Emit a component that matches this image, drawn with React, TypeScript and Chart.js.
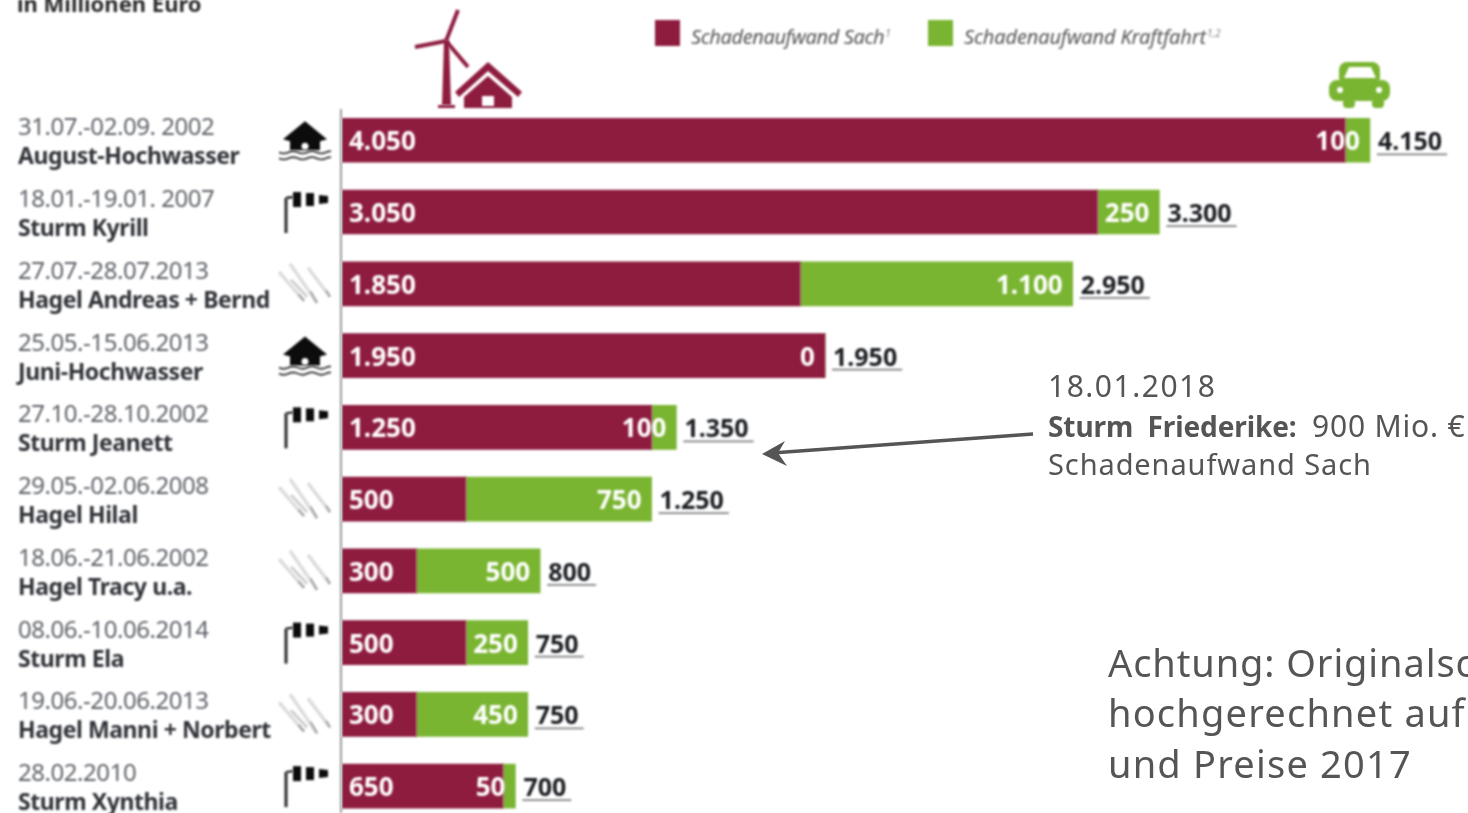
import React, { useEffect, useRef } from "react";
import { Chart, registerables } from "chart.js";

Chart.register(...registerables);

const dates = ["31.07.-02.09. 2002", "18.01.-19.01. 2007", "27.07.-28.07.2013", "25.05.-15.06.2013", "27.10.-28.10.2002", "29.05.-02.06.2008", "18.06.-21.06.2002", "08.06.-10.06.2014", "19.06.-20.06.2013", "28.02.2010"];
const events = ["August-Hochwasser", "Sturm Kyrill", "Hagel Andreas + Bernd", "Juni-Hochwasser", "Sturm Jeanett", "Hagel Hilal", "Hagel Tracy u.a.", "Sturm Ela", "Hagel Manni + Norbert", "Sturm Xynthia"];
const kinds = ["flood", "storm", "hail", "flood", "storm", "hail", "hail", "storm", "hail", "storm"];
const sach = [4050, 3050, 1850, 1950, 1250, 500, 300, 500, 300, 650];
const kraft = [100, 250, 1100, 0, 100, 750, 500, 250, 450, 50];
const totals = [4150, 3300, 2950, 1950, 1350, 1250, 800, 750, 750, 700];
const seriesNames = ["Schadenaufwand Sach", "Schadenaufwand Kraftfahrt"];
const seriesNotes = ["1", "1,2"];

const RED = "#8E1C3F";
const GREEN = "#7AB532";
const GREY = "#555555";
const FONT = '"Noto Sans"';
const BLUR = "blur(0.9px)";

const fmt = (v: number) => (v >= 1000 ? `${Math.floor(v / 1000)}.${String(v % 1000).padStart(3, "0")}` : String(v));

function txt(ctx: any, s: string, x: number, y: number, font: string, color: string, spacing = 0, align = "left") {
  ctx.font = font;
  ctx.fillStyle = color;
  ctx.textAlign = align;
  ctx.textBaseline = "alphabetic";
  ctx.letterSpacing = `${spacing}px`;
  ctx.fillText(s, x, y);
  ctx.letterSpacing = "0px";
}

function poly(ctx: any, pts: number[][], color: string) {
  ctx.fillStyle = color;
  ctx.beginPath();
  pts.forEach((p, i) => (i ? ctx.lineTo(p[0], p[1]) : ctx.moveTo(p[0], p[1])));
  ctx.closePath();
  ctx.fill();
}

function seg(ctx: any, x1: number, y1: number, x2: number, y2: number, w: number, color: string) {
  ctx.strokeStyle = color;
  ctx.lineWidth = w;
  ctx.beginPath();
  ctx.moveTo(x1, y1);
  ctx.lineTo(x2, y2);
  ctx.stroke();
}

function flood(ctx: any, x: number, y: number) {
  const c = "#0c0c0c";
  poly(ctx, [[x, y - 19], [x + 22, y - 1], [x + 15, y + 1], [x + 15, y + 10], [x - 15, y + 10], [x - 15, y + 1], [x - 22, y - 1]], c);
  ctx.fillStyle = "#fff";
  ctx.beginPath();
  ctx.arc(x, y + 6, 3.5, 0, Math.PI * 2);
  ctx.fill();
  for (const dy of [12, 18]) {
    ctx.strokeStyle = "#333";
    ctx.lineWidth = 1.8;
    ctx.beginPath();
    for (let i = 0; i <= 52; i += 2) {
      const px = x - 26 + i;
      const py = y + dy + Math.sin(i / 3) * 1.2;
      if (i === 0) ctx.moveTo(px, py);
      else ctx.lineTo(px, py);
    }
    ctx.stroke();
  }
}

function storm(ctx: any, x: number, y: number) {
  const c = "#0c0c0c";
  seg(ctx, x - 19, y - 14, x - 19, y + 21, 3, "#2a2a2a");
  seg(ctx, x - 19, y - 14, x - 12, y - 15, 2.4, "#2a2a2a");
  poly(ctx, [[x - 12, y - 20], [x - 4, y - 20], [x - 4, y - 5], [x - 12, y - 5]], c);
  poly(ctx, [[x + 1, y - 19], [x + 9, y - 19], [x + 9, y - 6], [x + 1, y - 6]], c);
  poly(ctx, [[x + 14, y - 17], [x + 23, y - 16], [x + 23, y - 9], [x + 14, y - 8]], c);
}

function hail(ctx: any, x: number, y: number) {
  const lines = [[-26, -12, -1, 17], [-15, -20, 12, 19], [3, -16, 25, 13]];
  for (const [a, b, c, d] of lines) {
    seg(ctx, x + a, y + b, x + c, y + d, 3.5, "#dcdcdc");
    seg(ctx, x + (a + c) / 2 + 7, y + (b + d) / 2 + 8, x + c, y + d, 1.6, "#9c9c9c");
  }
  seg(ctx, x - 14, y - 4, x + 2, y + 13, 3, "#cfcfcf");
}

function wind(ctx: any) {
  const c = RED;
  seg(ctx, 446, 41, 458, 10, 4, c);
  seg(ctx, 446, 41, 415, 47, 4, c);
  seg(ctx, 446, 41, 468, 67, 4, c);
  poly(ctx, [[444, 41], [449, 41], [451, 105], [442, 105]], c);
  poly(ctx, [[438, 105], [455, 105], [455, 108], [438, 108]], c);
  poly(ctx, [[488, 62], [522, 92], [518, 97], [488, 71], [459, 97], [455, 92]], c);
  poly(ctx, [[488, 76], [512, 97], [512, 108], [464, 108], [464, 97]], c);
  poly(ctx, [[482, 96], [494, 96], [494, 106], [482, 106]], "#fff");
}

function car(ctx: any) {
  const c = GREEN;
  ctx.fillStyle = c;
  ctx.beginPath();
  ctx.roundRect(1329, 80, 61, 21, 8);
  ctx.fill();
  ctx.beginPath();
  ctx.roundRect(1339, 62, 41, 24, 8);
  ctx.fill();
  poly(ctx, [[1349, 67], [1371, 67], [1376, 78], [1344, 78]], "#fff");
  ctx.fillStyle = c;
  ctx.beginPath();
  ctx.roundRect(1343, 98, 12, 10, 4);
  ctx.roundRect(1372, 98, 12, 10, 4);
  ctx.fill();
  ctx.fillStyle = "#fff";
  ctx.beginPath();
  ctx.arc(1340, 90, 3, 0, Math.PI * 2);
  ctx.arc(1379, 90, 3, 0, Math.PI * 2);
  ctx.fill();
}

const blurBars = {
  id: "blurBars",
  beforeDatasetsDraw(chart: any) {
    chart.ctx.save();
    chart.ctx.filter = BLUR;
  },
  afterDatasetsDraw(chart: any) {
    chart.ctx.restore();
  },
};

const overlay = {
  id: "overlay",
  afterDraw(chart: any) {
    const ctx = chart.ctx;
    const xs = chart.scales.x;
    const ys = chart.scales.y;
    ctx.save();
    ctx.filter = BLUR;

    txt(ctx, "in Millionen Euro", 17, 12, `700 22px ${FONT}`, "#2c2c2c", 0);

    // legend
    [RED, GREEN].forEach((col, i) => {
      const lx = [655, 928][i];
      ctx.fillStyle = col;
      ctx.fillRect(lx, 20, 25, 26);
      const tx = [691, 964][i];
      const sp = [-0.4, -0.15][i];
      const font = `italic 400 20px ${FONT}`;
      txt(ctx, seriesNames[i], tx, 44, font, "#555", sp);
      ctx.font = font;
      ctx.letterSpacing = `${sp}px`;
      const w = ctx.measureText(seriesNames[i]).width;
      ctx.letterSpacing = "0px";
      txt(ctx, seriesNotes[i], tx + w + 1, 37, `italic 400 10px ${FONT}`, "#888");
    });

    wind(ctx);
    car(ctx);

    // axis line
    seg(ctx, 341, 109, 341, 813, 2, "#9a9a9a");

    dates.forEach((d, i) => {
      const y = ys.getPixelForValue(i);
      txt(ctx, d, 18, y - 5, `400 24px ${FONT}`, "#5e6268", -0.45);
      txt(ctx, events[i], 18, y + 24, `700 23px ${FONT}`, "#2f3237", -0.42);
      if (kinds[i] === "flood") flood(ctx, 305, y);
      else if (kinds[i] === "storm") storm(ctx, 305, y);
      else hail(ctx, 305, y);

      const vf = `700 26px ${FONT}`;
      txt(ctx, fmt(sach[i]), xs.getPixelForValue(0) + 7, y + 10, vf, "#ffffff");
      const end = xs.getPixelForValue(totals[i]);
      txt(ctx, fmt(kraft[i]), end - 10, y + 10, vf, "#ffffff", 0, "right");
      const tf = `700 25px ${FONT}`;
      txt(ctx, fmt(totals[i]), end + 8, y + 10, tf, "#1b1e22");
      ctx.font = tf;
      const w = ctx.measureText(fmt(totals[i])).width;
      seg(ctx, end + 7, y + 14, end + 8 + w + 5, y + 14, 1.8, "#808080");
    });
    ctx.filter = "none";

    // annotation
    seg(ctx, 1033, 434, 772, 453, 3.4, GREY);
    poly(ctx, [[762, 454], [785, 441], [778, 453], [787, 466]], GREY);
    txt(ctx, "18.01.2018", 1048, 397, `400 30px ${FONT}`, GREY, 1.5);
    txt(ctx, "Sturm  Friederike:", 1048, 437, `700 28px ${FONT}`, GREY, -0.1);
    txt(ctx, "900 Mio. €", 1312, 437, `400 30px ${FONT}`, GREY, 0.8);
    txt(ctx, "Schadenaufwand Sach", 1048, 475, `400 29px ${FONT}`, GREY, 0.9);
    const af = `400 38px ${FONT}`;
    txt(ctx, "Achtung: Originalsc", 1108, 677, af, GREY, 0.9);
    txt(ctx, "hochgerechnet auf", 1108, 727, af, GREY, 1.2);
    txt(ctx, "und Preise 2017", 1108, 778, af, GREY, 1.2);
    ctx.restore();
  },
};

export default function App() {
  const ref = useRef<HTMLCanvasElement>(null);
  useEffect(() => {
    document.body.style.margin = "0";
    const chart = new Chart(ref.current as HTMLCanvasElement, {
      type: "bar",
      data: {
        labels: events,
        datasets: [
          { label: seriesNames[0], data: sach, backgroundColor: RED, barThickness: 44 },
          { label: seriesNames[1], data: kraft, backgroundColor: GREEN, barThickness: 44 },
        ],
      },
      options: {
        indexAxis: "y",
        animation: false,
        responsive: false,
        layout: { padding: { left: 342, top: 104.4, right: 0, bottom: 0 } },
        plugins: { legend: { display: false }, tooltip: { enabled: false }, title: { display: false } },
        scales: {
          x: { stacked: true, display: false, min: 0, max: 4546 },
          y: { stacked: true, display: false },
        },
      },
      plugins: [blurBars, overlay],
    } as any);
    return () => chart.destroy();
  }, []);
  return (
    <div style={{ width: 1468, height: 813, overflow: "hidden", background: "#fff" }}>
      <canvas ref={ref} width={1468} height={822} style={{ display: "block" }} />
    </div>
  );
}
